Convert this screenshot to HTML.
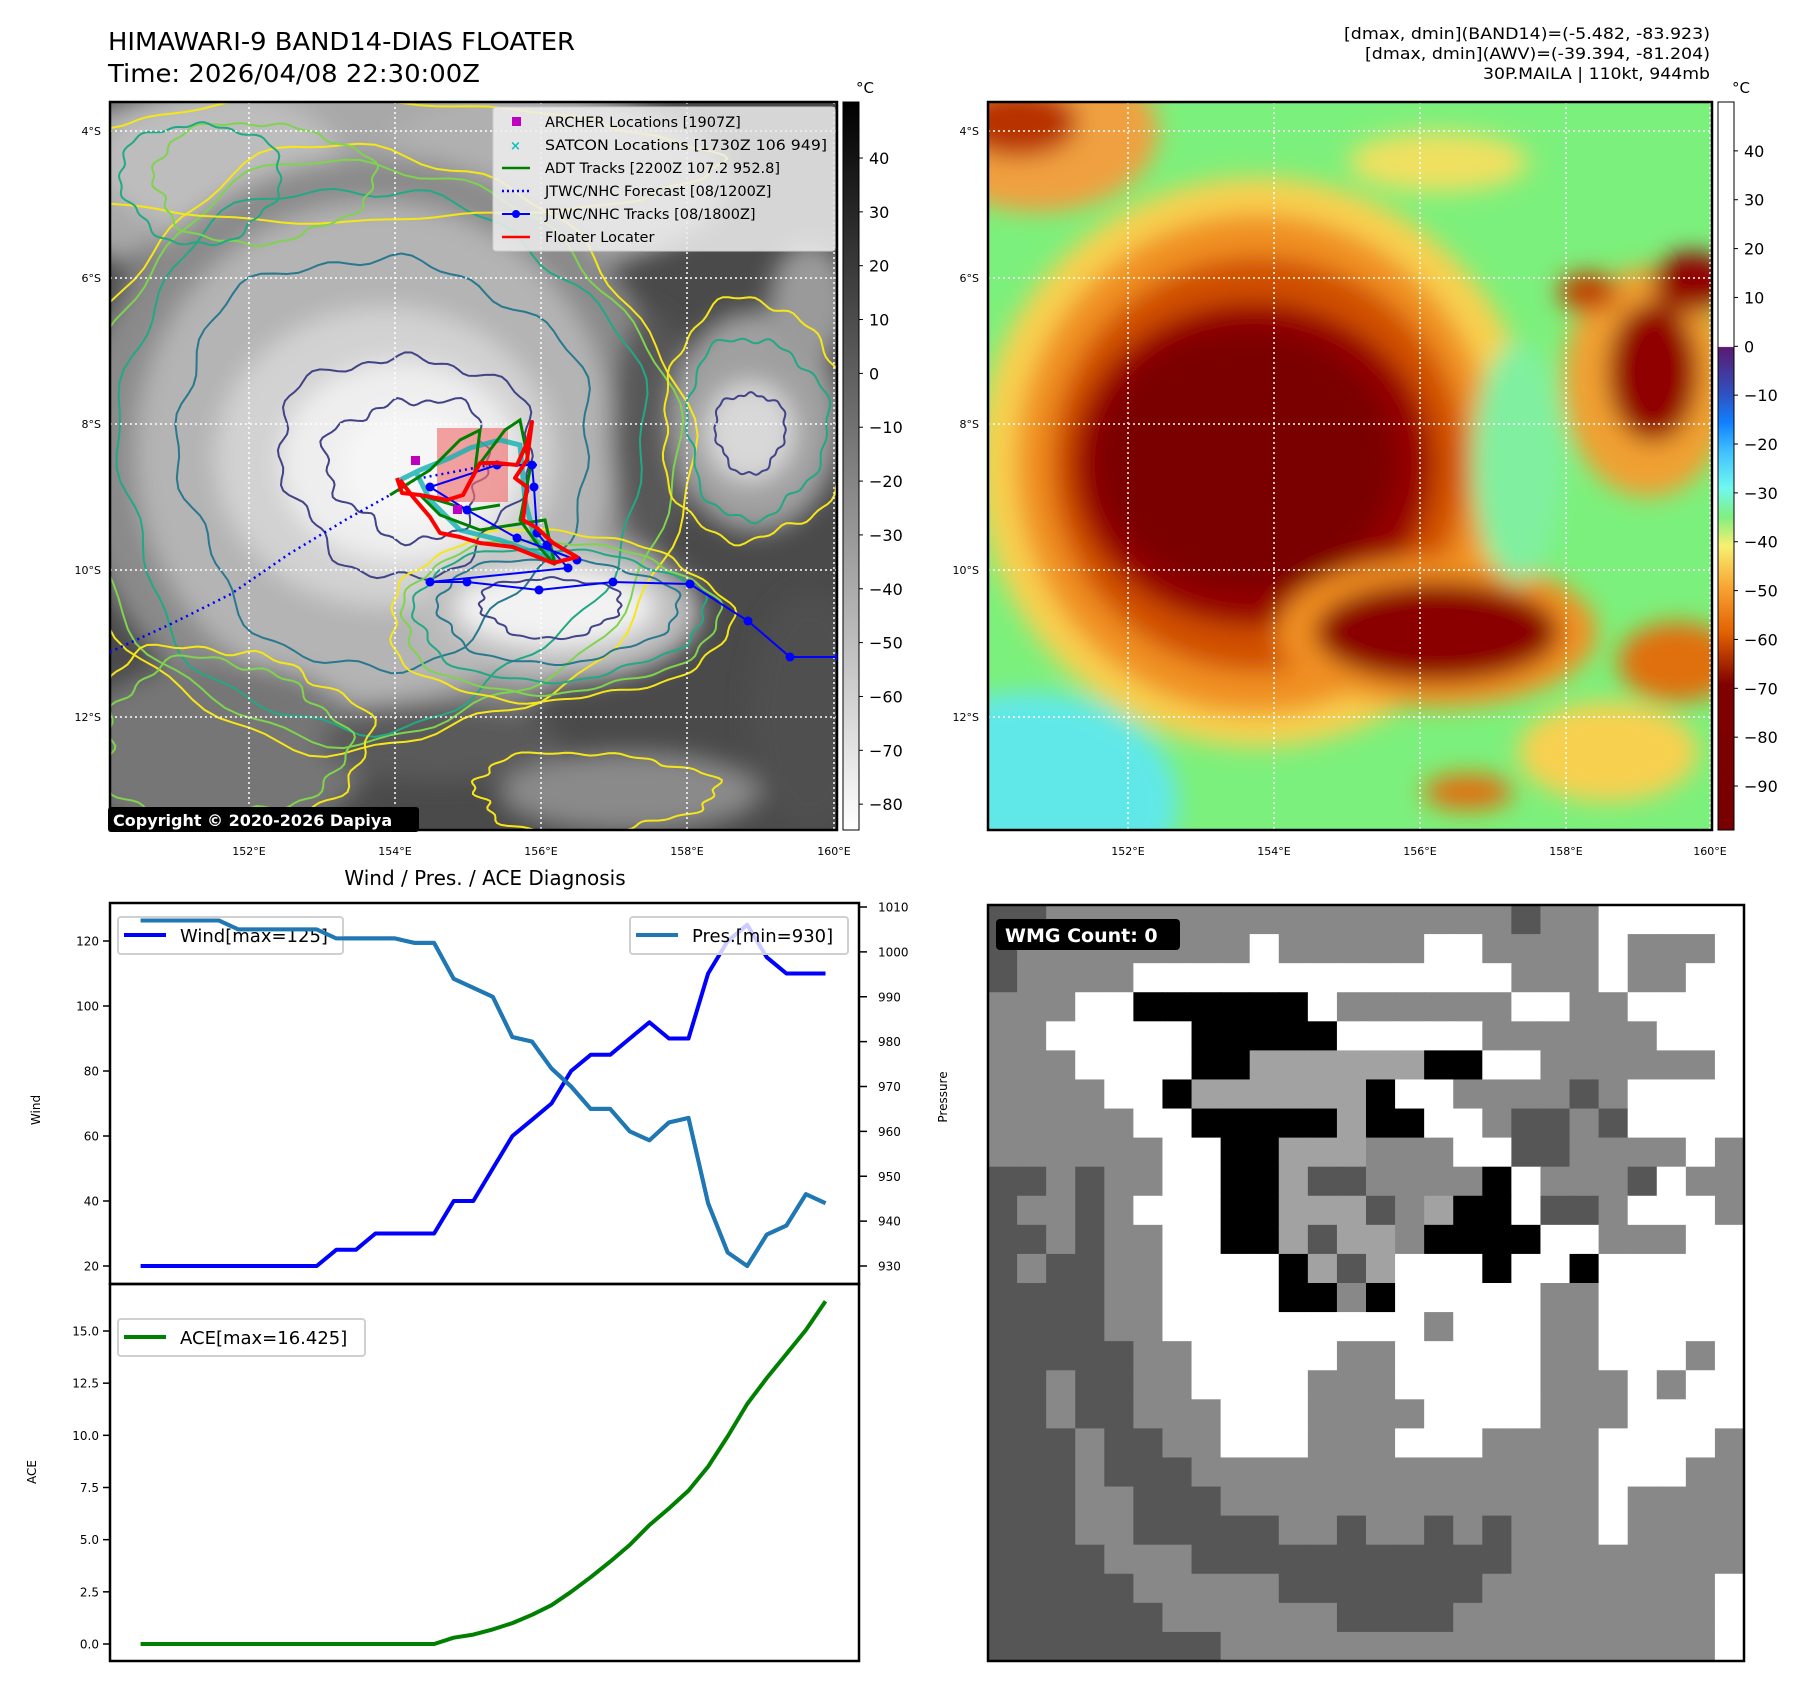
<!DOCTYPE html>
<html><head><meta charset="utf-8">
<style>
html,body{margin:0;padding:0;background:#fff;}
body{width:1801px;height:1690px;position:relative;overflow:hidden;font-family:"DejaVu Sans","Liberation Sans",sans-serif;}
svg text{font-family:"DejaVu Sans","Liberation Sans",sans-serif;}
</style></head>
<body>
<svg id="root" width="1801" height="1690" viewBox="0 0 1801 1690" xmlns="http://www.w3.org/2000/svg">
<defs>
  <clipPath id="clip1"><rect x="110" y="102" width="727" height="728"/></clipPath>
  <clipPath id="clip2"><rect x="988" y="102" width="724" height="728"/></clipPath>
  <filter id="blur1" x="-20%" y="-20%" width="140%" height="140%"><feGaussianBlur stdDeviation="12"/></filter>
  <filter id="blur2" x="-20%" y="-20%" width="140%" height="140%"><feGaussianBlur stdDeviation="12"/></filter>
  <linearGradient id="cb1" x1="0" y1="0" x2="0" y2="1">
    <stop offset="0" stop-color="#000"/><stop offset="1" stop-color="#fff"/>
  </linearGradient>
  <linearGradient id="cb2" x1="0" y1="0" x2="0" y2="1">
    <stop offset="0" stop-color="#fff"/>
    <stop offset="0.336" stop-color="#fff"/>
    <stop offset="0.337" stop-color="#5a1a70"/>
    <stop offset="0.40" stop-color="#3050c0"/>
    <stop offset="0.44" stop-color="#1080ff"/>
    <stop offset="0.48" stop-color="#40c0ff"/>
    <stop offset="0.53" stop-color="#70f8f0"/>
    <stop offset="0.57" stop-color="#80f080"/>
    <stop offset="0.61" stop-color="#f8f070"/>
    <stop offset="0.67" stop-color="#f8a030"/>
    <stop offset="0.73" stop-color="#e06000"/>
    <stop offset="0.80" stop-color="#800000"/>
    <stop offset="1" stop-color="#780000"/>
  </linearGradient>
</defs>

<!-- Titles -->
<text x="108" y="50" font-size="25" textLength="467" lengthAdjust="spacingAndGlyphs">HIMAWARI-9 BAND14-DIAS FLOATER</text>
<text x="108" y="82" font-size="25" textLength="372" lengthAdjust="spacingAndGlyphs">Time: 2026/04/08 22:30:00Z</text>
<text x="1710" y="39" font-size="16" text-anchor="end" textLength="366" lengthAdjust="spacingAndGlyphs">[dmax, dmin](BAND14)=(-5.482, -83.923)</text>
<text x="1710" y="59" font-size="16" text-anchor="end" textLength="345" lengthAdjust="spacingAndGlyphs">[dmax, dmin](AWV)=(-39.394, -81.204)</text>
<text x="1710" y="79" font-size="16" text-anchor="end" textLength="227" lengthAdjust="spacingAndGlyphs">30P.MAILA | 110kt, 944mb</text>

<!-- Map 1 -->
<g id="map1" clip-path="url(#clip1)">
  <rect x="110" y="102" width="727" height="728" fill="#4a4a4a"/>
  <g id="m1blobs" transform="translate(110,102)" filter="url(#blur1)"></g>
  <g id="m1cont" transform="translate(110,102)" fill="none"></g>
  <g id="m1grid"></g>
</g>
<rect x="110" y="102" width="727" height="728" fill="none" stroke="#000" stroke-width="2.5"/>

<!-- Map 2 -->
<g id="map2" clip-path="url(#clip2)">
  <rect x="988" y="102" width="724" height="728" fill="#7cf07c"/>
  <g id="m2blobs" transform="translate(988,102)" filter="url(#blur2)"></g>
  <g id="m2grid"></g>
</g>
<rect x="988" y="102" width="724" height="728" fill="none" stroke="#000" stroke-width="2.5"/>

<!-- Colorbars -->
<rect x="843" y="102" width="16" height="728" fill="url(#cb1)" stroke="#000" stroke-width="1"/>
<text x="856" y="93" font-size="15">°C</text>
<g id="cb1ticks"></g>
<rect x="1718" y="102" width="16" height="728" fill="url(#cb2)" stroke="#000" stroke-width="1"/>
<text x="1732" y="93" font-size="15">°C</text>
<g id="cb2ticks"></g>

<!-- overlays on map1 -->
<g id="tracks" clip-path="url(#clip1)"></g>

<!-- legend map1 -->
<g>
  <rect x="493" y="107" width="342" height="144" fill="#eeeeee" fill-opacity="0.85" stroke="#ccc" rx="3"/>
  <rect x="512" y="117" width="9" height="9" fill="#c000c0"/>
  <text x="545" y="127" font-size="14.5">ARCHER Locations [1907Z]</text>
  <text x="510" y="150" font-size="13" fill="#10c0c0" font-weight="bold">×</text>
  <text x="545" y="150" font-size="14.5" textLength="282" lengthAdjust="spacingAndGlyphs">SATCON Locations [1730Z 106 949]</text>
  <line x1="502" y1="168" x2="530" y2="168" stroke="#008000" stroke-width="2.5"/>
  <text x="545" y="173" font-size="14.5">ADT Tracks [2200Z 107.2 952.8]</text>
  <line x1="502" y1="191" x2="530" y2="191" stroke="#0000ff" stroke-width="2.5" stroke-dasharray="2,3"/>
  <text x="545" y="196" font-size="14.5">JTWC/NHC Forecast [08/1200Z]</text>
  <line x1="502" y1="214" x2="530" y2="214" stroke="#0000ff" stroke-width="2"/>
  <circle cx="516" cy="214" r="4" fill="#0000ff"/>
  <text x="545" y="219" font-size="14.5">JTWC/NHC Tracks [08/1800Z]</text>
  <line x1="502" y1="237" x2="530" y2="237" stroke="#ff0000" stroke-width="2.5"/>
  <text x="545" y="242" font-size="14.5">Floater Locater</text>
</g>
<g>
  <rect x="108" y="807" width="311" height="25" fill="#000" rx="3"/>
  <text x="113" y="826" font-size="16" font-weight="bold" fill="#fff">Copyright © 2020-2026 Dapiya</text>
</g>

<!-- Bottom-left chart -->
<text x="485" y="885" font-size="20" text-anchor="middle">Wind / Pres. / ACE Diagnosis</text>
<g id="chart"></g>

<!-- WMG panel -->
<g id="wmg"></g>
</svg>

<script>
// ---------------- chart data ----------------
const timeIndex = [0,1,2,3,4,5,6,7,8,9,10,11,12,13,14,15,16,17,18,19,20,21,22,23,24,25,26,27,28,29,30,31,32,33,34,35];
const windValues = [20,20,20,20,20,20,20,20,20,20,25,25,30,30,30,30,40,40,50,60,65,70,80,85,85,90,95,90,90,110,120,125,115,110,110,110];
const presValues = [1007,1007,1007,1007,1007,1005,1005,1005,1005,1005,1003,1003,1003,1003,1002,1002,994,992,990,981,980,974,970,965,965,960,958,962,963,944,933,930,937,939,946,944];
const aceValues = [0,0,0,0,0,0,0,0,0,0,0,0,0,0,0,0,0.3,0.45,0.7,1.0,1.4,1.86,2.5,3.2,3.95,4.75,5.7,6.5,7.35,8.5,9.95,11.5,12.75,13.9,15.05,16.425];
const windTicks = [20,40,60,80,100,120];
const presTicks = [930,940,950,960,970,980,990,1000,1010];
const aceTicks = [0,2.5,5,7.5,10,12.5,15];
const irTicks = [40,30,20,10,0,-10,-20,-30,-40,-50,-60,-70,-80];
const awvTicks = [40,30,20,10,0,-10,-20,-30,-40,-50,-60,-70,-80,-90];

const NS = 'http://www.w3.org/2000/svg';
function mk(tag, attrs, parent){const e=document.createElementNS(NS,tag);for(const k in attrs)e.setAttribute(k,attrs[k]);if(parent)parent.appendChild(e);return e;}

const X0=140.6, X1=825.5;
function xAt(i){return X0+(X1-X0)*i/(timeIndex.length-1);}
function yWind(v){return 1266-(v-20)*(325/100);}
function yPres(v){return 1266-(v-930)*(359/80);}
function yAce(v){return 1644-v*(313/15);}

const chart=document.getElementById('chart');
const f1=mk('rect',{x:110,y:903,width:749,height:381,fill:'none',stroke:'#000','stroke-width':2.5},chart);


const f2=mk('rect',{x:110,y:1284,width:749,height:377,fill:'none',stroke:'#000','stroke-width':2.5},chart);



windTicks.forEach(v=>{const y=yWind(v);
  mk('line',{x1:103,y1:y,x2:110,y2:y,stroke:'#000','stroke-width':1.5},chart);
  const t=mk('text',{x:99,y:y+4.5,'font-size':12,'text-anchor':'end'},chart);t.textContent=v;
  
  });
presTicks.forEach(v=>{const y=yPres(v);
  mk('line',{x1:859,y1:y,x2:867,y2:y,stroke:'#000','stroke-width':1.5},chart);
  const t=mk('text',{x:878,y:y+4.5,'font-size':12},chart);t.textContent=v;
  
  });
aceTicks.forEach(v=>{const y=yAce(v);
  mk('line',{x1:103,y1:y,x2:110,y2:y,stroke:'#000','stroke-width':1.5},chart);
  const t=mk('text',{x:99,y:y+4.5,'font-size':12,'text-anchor':'end'},chart);t.textContent=v.toFixed(1);
  
  });
let lab=mk('text',{x:0,y:0,'font-size':12,transform:'translate(40,1110) rotate(-90)','text-anchor':'middle'},chart);lab.textContent='Wind';


lab=mk('text',{x:0,y:0,'font-size':12,transform:'translate(36,1472) rotate(-90)','text-anchor':'middle'},chart);lab.textContent='ACE';


lab=mk('text',{x:0,y:0,'font-size':12,transform:'translate(947,1097) rotate(-90)','text-anchor':'middle'},chart);lab.textContent='Pressure';



function line(vals,yf,color,name){
  const d=vals.map((v,i)=>(i?'L':'M')+xAt(i).toFixed(1)+','+yf(v).toFixed(1)).join('');
  const p=mk('path',{d:d,fill:'none',stroke:color,'stroke-width':4,'stroke-linejoin':'round'},chart);
  
  
}
line(windValues,yWind,'#0000ff','wind-line');
line(presValues,yPres,'#1f77b4','pressure-line');
line(aceValues,yAce,'#008000','ace-line');

function legend(x,y,w,color,text,name){
  const g=mk('g',{},chart);
  
  
  mk('rect',{x:x,y:y,width:w,height:37,fill:'#fff','fill-opacity':0.8,stroke:'#d0d0d0','stroke-width':2,rx:3},g);
  mk('line',{x1:x+6,y1:y+18,x2:x+48,y2:y+18,stroke:color,'stroke-width':4},g);
  const t=mk('text',{x:x+62,y:y+25,'font-size':18},g);t.textContent=text;
}
legend(118,917,225,'#0000ff','Wind[max=125]','wind-legend');
legend(630,917,218,'#1f77b4','Pres.[min=930]','pressure-legend');
legend(118,1319,247,'#008000','ACE[max=16.425]','ace-legend');
line(presValues,yPres,'#1f77b4','pressure-line-overlay');

// ---------------- maps ----------------
function blobs(gid,list){
  const g=document.getElementById(gid);
  list.forEach(b=>mk('ellipse',{cx:b[0],cy:b[1],rx:b[2],ry:b[3],fill:b[4]},g));
}
blobs('m1blobs',[
 [260,80,360,110,'#a8a8a8'],[110,60,120,70,'#bdbdbd'],[420,50,140,60,'#b0b0b0'],
 [140,170,130,40,'#6a6a6a'],
 [265,350,300,295,'#8a8a8a'],[265,350,240,250,'#b4b4b4'],[275,355,170,150,'#d2d2d2'],
 [290,360,120,100,'#eeeeee'],[300,365,70,60,'#f6f6f6'],
 [540,330,40,120,'#585858'],
 [450,510,140,70,'#bdbdbd'],[445,505,100,40,'#f2f2f2'],
 [645,320,85,110,'#a0a0a0'],[640,330,45,50,'#d8d8d8'],[700,200,40,60,'#9a9a9a'],
 [110,650,150,90,'#767676'],[520,690,130,40,'#8a8a8a'],[700,610,60,120,'#505050'],
 [330,640,120,40,'#5a5a5a']
]);
blobs('m2blobs',[
 [50,30,120,80,'#f0a040'],[30,20,60,35,'#b83000'],[450,60,90,30,'#f0e060'],
 [270,360,280,285,'#f8d050'],[268,362,240,250,'#f09020'],[270,362,208,208,'#d05000'],
 [265,362,180,162,'#950000'],[258,358,150,130,'#7a0000'],
 [449,530,160,75,'#f09020'],[449,530,122,50,'#8a0000'],
 [660,280,85,115,'#f0a030'],[665,270,45,70,'#900000'],[705,180,40,30,'#900000'],[600,190,30,20,'#c04000'],
 [530,360,45,120,'#80f0a0'],
 [40,700,150,110,'#60e8e8'],[480,690,45,18,'#e07010'],[620,650,90,50,'#f8d050'],[690,560,60,40,'#e07010']
]);

function wob(cx,cy,rx,ry,amp,s){
  let d='';for(let i=0;i<=120;i++){const t=i/120*Math.PI*2;
    const f=1+amp*(0.5*Math.sin(3*t+s)+0.3*Math.sin(7*t+2*s)+0.2*Math.sin(17*t+3*s));
    d+=(i?'L':'M')+(cx+rx*f*Math.cos(t)).toFixed(1)+','+(cy+ry*f*Math.sin(t)).toFixed(1);}
  return d+'Z';
}
const cont=document.getElementById('m1cont');
[
 ['#f5e61a',265,350,305,300,0.07,1],['#7fd34e',265,350,292,288,0.07,1.3],['#22a884',265,352,262,270,0.08,2],
 ['#2a788e',270,355,205,205,0.1,2.5],['#414487',295,360,125,110,0.15,3],['#414487',300,365,80,70,0.2,4],
 ['#f5e61a',445,515,170,85,0.08,1],['#7fd34e',445,515,158,76,0.08,1.5],['#22a884',445,512,145,66,0.09,2],
 ['#2a788e',445,508,120,52,0.1,2.2],['#414487',440,505,70,30,0.15,3],
 ['#f5e61a',645,320,95,120,0.1,1],['#22a884',645,325,70,90,0.12,2],['#414487',640,330,35,40,0.15,3],
 ['#f5e61a',260,60,330,60,0.1,1],['#7fd34e',150,80,110,60,0.12,2],['#22a884',90,80,80,60,0.12,3],
 ['#f5e61a',480,690,120,40,0.15,2],['#7fd34e',110,640,120,80,0.15,1],['#f5e61a',110,640,140,95,0.15,1.7]
].forEach(c=>mk('path',{d:wob(c[1],c[2],c[3],c[4],c[5],c[6]),stroke:c[0],'stroke-width':2},cont));

function grid(gid,xs,ys,x0,x1){const g=document.getElementById(gid);
  xs.forEach(x=>mk('line',{x1:x,y1:102,x2:x,y2:830,stroke:'#fff','stroke-width':1.5,'stroke-dasharray':'2,3'},g));
  ys.forEach(y=>mk('line',{x1:x0,y1:y,x2:x1,y2:y,stroke:'#fff','stroke-width':1.5,'stroke-dasharray':'2,3'},g));}
const latY=[131,278,424,570,717], latL=['4°S','6°S','8°S','10°S','12°S'];
const lonL=['152°E','154°E','156°E','158°E','160°E'];
const lon1=[249,395,541,687,834], lon2=[1128,1274,1420,1566,1710];
grid('m1grid',lon1,latY,110,837);grid('m2grid',lon2,latY,988,1712);
const root=document.getElementById('root');
[[lon1,101],[lon2,979]].forEach(([lons,lx])=>{
  latY.forEach((y,i)=>{const t=mk('text',{x:lx,y:y+4,'font-size':11,'text-anchor':'end'},root);t.textContent=latL[i];
    
    });
  lons.forEach((x,i)=>{const t=mk('text',{x:x,y:855,'font-size':11,'text-anchor':'middle'},root);t.textContent=lonL[i];
    
    });
});
function cbTicks(gid,ticks,x,yTop,vTop,vBot){const g=document.getElementById(gid);
  ticks.forEach(v=>{const y=yTop+(vTop-v)/(vTop-vBot)*728;
    mk('line',{x1:x+16,y1:y,x2:x+20,y2:y,stroke:'#000'},g);
    const t=mk('text',{x:x+26,y:y+6,'font-size':16},g);t.textContent=(v<0?'\u2212'+(-v):v);
    
    });}
cbTicks('cb1ticks',irTicks,843,102,50.4,-84.8);
cbTicks('cb2ticks',awvTicks,1718,102,50,-99);

const tr=document.getElementById('tracks');
mk('rect',{x:437,y:428,width:71,height:74,fill:'#f07070','fill-opacity':0.65},tr);
mk('polyline',{points:'110,652 173,623 231,594 289,554 347,519 399,490 416,479 490,465 537,465',fill:'none',stroke:'#0000ff','stroke-width':2.5,'stroke-dasharray':'2,4'},tr);
mk('polyline',{points:'400,480 420,470 450,458 470,448 500,440 520,445 525,500 535,540 555,560 500,540 460,530 430,500 415,470',fill:'none',stroke:'#10b0b0','stroke-width':5,'stroke-opacity':0.8},tr);
mk('polyline',{points:'390,495 430,470 460,440 480,430 475,470 505,430 520,420 530,470 520,520 540,548 555,565 545,520 480,530 440,515 420,495 470,510 500,505',fill:'none',stroke:'#008000','stroke-width':3},tr);
const blueP='839,657 790,657 748,621 690,584 613,582 539,590 467,582 430,582 568,568 547,545 537,533 534,487 532,465 497,465 430,487 467,510 517,538 577,560';
mk('polyline',{points:blueP,fill:'none',stroke:'#0000ff','stroke-width':2},tr);
blueP.split(' ').forEach(p=>{const [x,y]=p.split(',');mk('circle',{cx:x,cy:y,r:4.5,fill:'#0000ff'},tr);});
mk('polyline',{points:'397,478 402,493 420,495 447,500 463,495 480,463 497,463 517,465 527,443 532,422 527,460 515,478 527,487 523,520 537,528 553,543 577,557 553,563 513,547 480,543 460,537 440,533 430,517 413,497 400,480',fill:'none',stroke:'#ff0000','stroke-width':4,'stroke-linejoin':'round'},tr);
mk('rect',{x:411,y:456,width:9,height:9,fill:'#c000c0'},tr);
mk('rect',{x:453,y:505,width:9,height:9,fill:'#c000c0'},tr);

// ---------------- WMG panel ----------------
const wmgRows=[
"DDGGGGGGGGGGGGGGGGDGGWWWWW",
"DGGGGGGGGWGGGGGWWGGGGWGGGW",
"DGGGGWWWWWWWWWWWWWGGGWGGWW",
"GGGWWBBBBBBWGGGGGGWWGGWWWW",
"GGWWWWWBBBBBWWWWWGGGGGGWWW",
"GGGWWWWBBLLLLLLBBWWGGGGGGW",
"GGGGWWBLLLLLLBWWGGGGDGWWWW",
"GGGGGWWBBBBBLBBWWGDDGDWWWW",
"GGGGGGWWBBLLLGGGWWDDGGGGWG",
"DDGDGGWWBBLDDGGGGBWGGGDWGG",
"DGGDGWWWBBLLLDGLBBWDDGWWWG",
"DDGDGGWWBBLDLLGBBBBWWGGGWW",
"DGDDGGWWWWBLDLWWWBWWBWWWWW",
"DDDDGGWWWWBBGBWWWWWGGWWWWW",
"DDDDGGWWWWWWWWWGWWWGGWWWWW",
"DDDDDGGWWWWWGGWWWWWGGWWWGW",
"DDGDDGGWWWWGGGWWWWWGGGWGWW",
"DDGDDGGGWWWGGGGWWWWGGGWWWW",
"DDDGDDGGWWWGGGWWWGGGGWWWWG",
"DDDGDDDGGGGGGGGGGGGGGWWWGG",
"DDDGGDDDGGGGGGGGGGGGGWGGGG",
"DDDGGDDDDDGGDGGDGDGGGWGGGG",
"DDDDGGGDDDDDDDDDDDGGGGGGGG",
"DDDDDGGGGGDDDDDDDGGGGGGGGW",
"DDDDDDGGGGGGDDDDGGGGGGGGGW",
"DDDDDDDDGGGGGGGGGGGGGGGGGW"];
const wmgCol={G:'#888888',D:'#565656',W:'#ffffff',B:'#000000',L:'#a2a2a2'};
const wg=document.getElementById('wmg');
const PX=988,PY=905,PW=756,PH=756,cw=PW/26,ch=PH/26;
wmgRows.forEach((r,j)=>{for(let i=0;i<r.length;i++){
  mk('rect',{x:(PX+i*cw).toFixed(2),y:(PY+j*ch).toFixed(2),width:(cw+0.6).toFixed(2),height:(ch+0.6).toFixed(2),fill:wmgCol[r[i]]},wg);}});
mk('rect',{x:PX,y:PY,width:PW,height:PH,fill:'none',stroke:'#000','stroke-width':2.5},wg);
const lb=mk('rect',{x:996,y:919,width:184,height:31,fill:'#000',rx:4},wg);


const lt=mk('text',{x:1005,y:942,'font-size':19,'font-weight':'bold',fill:'#fff'},wg);lt.textContent='WMG Count: 0';


</script>
</body></html>
